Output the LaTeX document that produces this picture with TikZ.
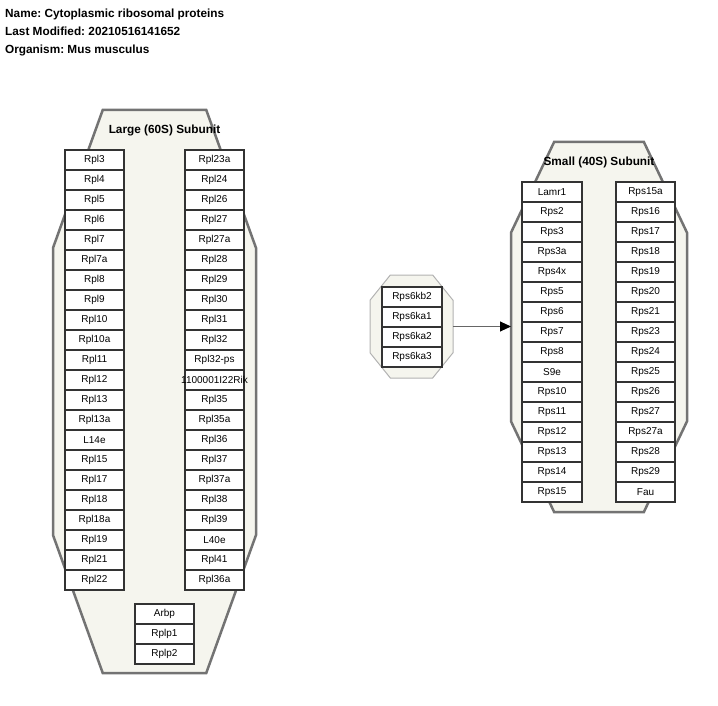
\documentclass[tikz,border=0pt]{standalone}
\usepackage{fontspec}
\setmainfont{Liberation Sans}
\usetikzlibrary{calc, arrows.meta}
\frenchspacing

% octagon around a group node
\newcommand{\octfill}[2]{%
  \filldraw[#1] ($(#2.north west)!.245!(#2.north east)$) -- ($(#2.north west)!.755!(#2.north east)$)
    -- ($(#2.north east)!.245!(#2.south east)$) -- ($(#2.north east)!.755!(#2.south east)$)
    -- ($(#2.south west)!.755!(#2.south east)$) -- ($(#2.south west)!.245!(#2.south east)$)
    -- ($(#2.north west)!.755!(#2.south west)$) -- ($(#2.north west)!.245!(#2.south west)$) -- cycle;}

\begin{document}
\begin{tikzpicture}[x=1pt, y=-1pt,
    box/.style={draw=black!80, fill=white, line width=1.4pt, minimum width=59pt, minimum height=20pt, inner sep=0pt, font=\fontsize{10}{12}\selectfont},
    grp/.style={inner sep=0pt, outer sep=0pt},
    grpline/.style={draw=black!55, fill=groupfill, line width=2.5pt, line join=miter},
    head/.style={anchor=base west, inner sep=0pt, font=\bfseries\fontsize{11.8}{14}\selectfont},
    title/.style={inner sep=0pt, font=\bfseries\fontsize{11.8}{14}\selectfont}]

    \definecolor{groupfill}{RGB}{245,245,238}
    \useasboundingbox (0,0) rectangle (718,706);

    % Header
    \node[head] at (5,18) (hdrname) {Name: Cytoplasmic ribosomal proteins};
    \node[head] at (5,36) (hdrdate) {Last Modified: 20210516141652};
    \node[head] at (5,54) (hdrorg) {Organism: Mus musculus};

    % Groups
    \node[grp, minimum width=203, minimum height=563] at (154.5,391.5) (large) {};
    \octfill{grpline}{large}
    \node[grp, minimum width=176, minimum height=370] at (599,327) (small) {};
    \octfill{grpline}{small}
    \node[grp, minimum width=83, minimum height=103] at (411.5,326.5) (kinase) {};
    \octfill{grpline, draw=black!30, line width=1pt}{kinase}

    % Group labels
    \node[title] at (164.5,130) (largelbl) {Large (60S) Subunit};
    \node[title] at (599,162) (smalllbl) {Small (40S) Subunit};

    % Large subunit, left column
    \node[box] at (94.5,160) (rpl3) {Rpl3};
    \node[box] at (94.5,180) (rpl4) {Rpl4};
    \node[box] at (94.5,200) (rpl5) {Rpl5};
    \node[box] at (94.5,220) (rpl6) {Rpl6};
    \node[box] at (94.5,240) (rpl7) {Rpl7};
    \node[box] at (94.5,260) (rpl7a) {Rpl7a};
    \node[box] at (94.5,280) (rpl8) {Rpl8};
    \node[box] at (94.5,300) (rpl9) {Rpl9};
    \node[box] at (94.5,320) (rpl10) {Rpl10};
    \node[box] at (94.5,340) (rpl10a) {Rpl10a};
    \node[box] at (94.5,360) (rpl11) {Rpl11};
    \node[box] at (94.5,380) (rpl12) {Rpl12};
    \node[box] at (94.5,400) (rpl13) {Rpl13};
    \node[box] at (94.5,420) (rpl13a) {Rpl13a};
    \node[box] at (94.5,440) (l14e) {L14e};
    \node[box] at (94.5,460) (rpl15) {Rpl15};
    \node[box] at (94.5,480) (rpl17) {Rpl17};
    \node[box] at (94.5,500) (rpl18) {Rpl18};
    \node[box] at (94.5,520) (rpl18a) {Rpl18a};
    \node[box] at (94.5,540) (rpl19) {Rpl19};
    \node[box] at (94.5,560) (rpl21) {Rpl21};
    \node[box] at (94.5,580) (rpl22) {Rpl22};

    % Large subunit, right column
    \node[box] at (214.5,160) (rpl23a) {Rpl23a};
    \node[box] at (214.5,180) (rpl24) {Rpl24};
    \node[box] at (214.5,200) (rpl26) {Rpl26};
    \node[box] at (214.5,220) (rpl27) {Rpl27};
    \node[box] at (214.5,240) (rpl27a) {Rpl27a};
    \node[box] at (214.5,260) (rpl28) {Rpl28};
    \node[box] at (214.5,280) (rpl29) {Rpl29};
    \node[box] at (214.5,300) (rpl30) {Rpl30};
    \node[box] at (214.5,320) (rpl31) {Rpl31};
    \node[box] at (214.5,340) (rpl32) {Rpl32};
    \node[box] at (214.5,360) (rpl32ps) {Rpl32-ps};
    \node[box] at (214.5,380) (rik) {\makebox[0pt]{1100001I22Rik}};
    \node[box] at (214.5,400) (rpl35) {Rpl35};
    \node[box] at (214.5,420) (rpl35a) {Rpl35a};
    \node[box] at (214.5,440) (rpl36) {Rpl36};
    \node[box] at (214.5,460) (rpl37) {Rpl37};
    \node[box] at (214.5,480) (rpl37a) {Rpl37a};
    \node[box] at (214.5,500) (rpl38) {Rpl38};
    \node[box] at (214.5,520) (rpl39) {Rpl39};
    \node[box] at (214.5,540) (l40e) {L40e};
    \node[box] at (214.5,560) (rpl41) {Rpl41};
    \node[box] at (214.5,580) (rpl36a) {Rpl36a};

    % Large subunit, stalk proteins
    \node[box] at (164.5,614) (arbp) {Arbp};
    \node[box] at (164.5,634) (rplp1) {Rplp1};
    \node[box] at (164.5,654) (rplp2) {Rplp2};

    % Kinases
    \node[box, minimum width=60] at (412,297) (rps6kb2) {Rps6kb2};
    \node[box, minimum width=60] at (412,317) (rps6ka1) {Rps6ka1};
    \node[box, minimum width=60] at (412,337) (rps6ka2) {Rps6ka2};
    \node[box, minimum width=60] at (412,357) (rps6ka3) {Rps6ka3};

    % Small subunit, left column
    \node[box, minimum width=60] at (552,192) (lamr1) {Lamr1};
    \node[box, minimum width=60] at (552,212) (rps2) {Rps2};
    \node[box, minimum width=60] at (552,232) (rps3) {Rps3};
    \node[box, minimum width=60] at (552,252) (rps3a) {Rps3a};
    \node[box, minimum width=60] at (552,272) (rps4x) {Rps4x};
    \node[box, minimum width=60] at (552,292) (rps5) {Rps5};
    \node[box, minimum width=60] at (552,312) (rps6) {Rps6};
    \node[box, minimum width=60] at (552,332) (rps7) {Rps7};
    \node[box, minimum width=60] at (552,352) (rps8) {Rps8};
    \node[box, minimum width=60] at (552,372) (s9e) {S9e};
    \node[box, minimum width=60] at (552,392) (rps10) {Rps10};
    \node[box, minimum width=60] at (552,412) (rps11) {Rps11};
    \node[box, minimum width=60] at (552,432) (rps12) {Rps12};
    \node[box, minimum width=60] at (552,452) (rps13) {Rps13};
    \node[box, minimum width=60] at (552,472) (rps14) {Rps14};
    \node[box, minimum width=60] at (552,492) (rps15) {Rps15};

    % Small subunit, right column
    \node[box] at (645.5,192) (rps15a) {Rps15a};
    \node[box] at (645.5,212) (rps16) {Rps16};
    \node[box] at (645.5,232) (rps17) {Rps17};
    \node[box] at (645.5,252) (rps18) {Rps18};
    \node[box] at (645.5,272) (rps19) {Rps19};
    \node[box] at (645.5,292) (rps20) {Rps20};
    \node[box] at (645.5,312) (rps21) {Rps21};
    \node[box] at (645.5,332) (rps23) {Rps23};
    \node[box] at (645.5,352) (rps24) {Rps24};
    \node[box] at (645.5,372) (rps25) {Rps25};
    \node[box] at (645.5,392) (rps26) {Rps26};
    \node[box] at (645.5,412) (rps27) {Rps27};
    \node[box] at (645.5,432) (rps27a) {Rps27a};
    \node[box] at (645.5,452) (rps28) {Rps28};
    \node[box] at (645.5,472) (rps29) {Rps29};
    \node[box] at (645.5,492) (fau) {Fau};

    % Kinases to small subunit
    \draw[draw=black!60, line width=1pt, -{Triangle[length=11pt, width=10pt, color=black]}] (kinase.east) -- (kinase.east -| small.west);
\end{tikzpicture}
\end{document}
